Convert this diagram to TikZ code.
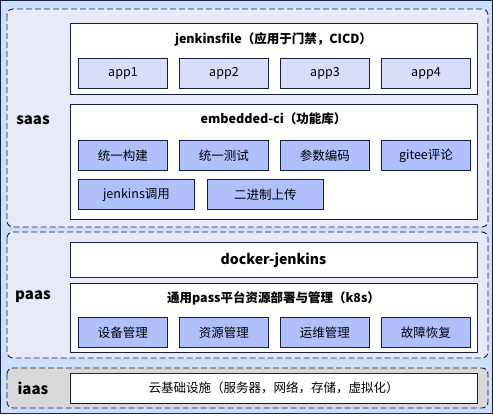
\documentclass[tikz,border=0pt]{standalone}
\usepackage{fontspec}
\setmainfont{Noto Sans CJK SC}
\begin{document}
\begin{tikzpicture}[x=1pt,y=-1pt,
  navy/.style={draw={rgb,255:red,20;green,30;blue,70}},
  layer/.style={navy,dashed,dash pattern=on 6pt off 3pt,line width=0.9pt,rounded corners=6pt},
  whitebox/.style={navy,fill=white,line width=0.9pt},
  appbox/.style={navy,fill={rgb,255:red,218;green,221;blue,250},line width=0.9pt,minimum width=89pt,minimum height=30pt,inner sep=0pt,anchor=north west,font=\fontsize{12.5}{14}\selectfont},
  funcbox/.style={appbox,fill={rgb,255:red,176;green,192;blue,252}},
  title/.style={font=\fontsize{12.5}{14}\selectfont\bfseries},
  lbl/.style={font=\fontsize{15}{18}\selectfont\bfseries}
]
\useasboundingbox (0,0) rectangle (493,418);
\fill[white] (0,0) rectangle (493,418);
% outer background
\draw[navy,fill={rgb,255:red,205;green,224;blue,250},line width=1pt] (0.5,0.5) rectangle (492.5,413);
% layers
\draw[layer,fill={rgb,255:red,232;green,234;blue,250}] (7,9) rectangle (488,227);
\draw[layer,fill={rgb,255:red,232;green,234;blue,250}] (7,232) rectangle (488,358);
\draw[layer,fill={rgb,255:red,217;green,217;blue,217}] (7,368) rectangle (488,408);
\node[lbl] (saas) at (33,120) {saas};
\node[lbl] (paas) at (33,297) {paas};
\node[lbl] (iaas) at (33,388) {iaas};
% saas: jenkinsfile
\draw[whitebox] (70,23) rectangle (477,94);
\node[title] (jf) at (273.5,39) {jenkinsfile（应用于门禁，CICD）};
\node[appbox] (app1) at (78,58) {app1};
\node[appbox] (app2) at (179,58) {app2};
\node[appbox] (app3) at (280,58) {app3};
\node[appbox] (app4) at (381,58) {app4};
% embedded-ci
\draw[whitebox] (70,104) rectangle (477,219);
\node[title] (eci) at (273.5,119) {embedded-ci（功能库）};
\node[funcbox] (f1) at (78,140) {统一构建};
\node[funcbox] (f2) at (179,140) {统一测试};
\node[funcbox] (f3) at (280,140) {参数编码};
\node[funcbox] (f4) at (381,140) {gitee评论};
\node[funcbox,minimum width=116pt] (f5) at (78,179) {jenkins调用};
\node[funcbox,minimum width=116pt] (f6) at (207,179) {二进制上传};
% paas
\draw[whitebox] (70,242) rectangle (477,277);
\node[font=\fontsize{14}{16}\selectfont\bfseries] (dj) at (273.5,260) {docker-jenkins};
\draw[whitebox] (70,283) rectangle (477,352);
\node[title] (pass) at (273.5,298) {通用pass平台资源部署与管理（k8s）};
\node[funcbox] (p1) at (78,317) {设备管理};
\node[funcbox] (p2) at (179,317) {资源管理};
\node[funcbox] (p3) at (280,317) {运维管理};
\node[funcbox] (p4) at (381,317) {故障恢复};
% iaas
\draw[whitebox] (70,373) rectangle (477,403);
\node[font=\fontsize{12.5}{14}\selectfont] (cloud) at (273.5,388) {云基础设施（服务器，网络，存储，虚拟化）};
\end{tikzpicture}
\end{document}
